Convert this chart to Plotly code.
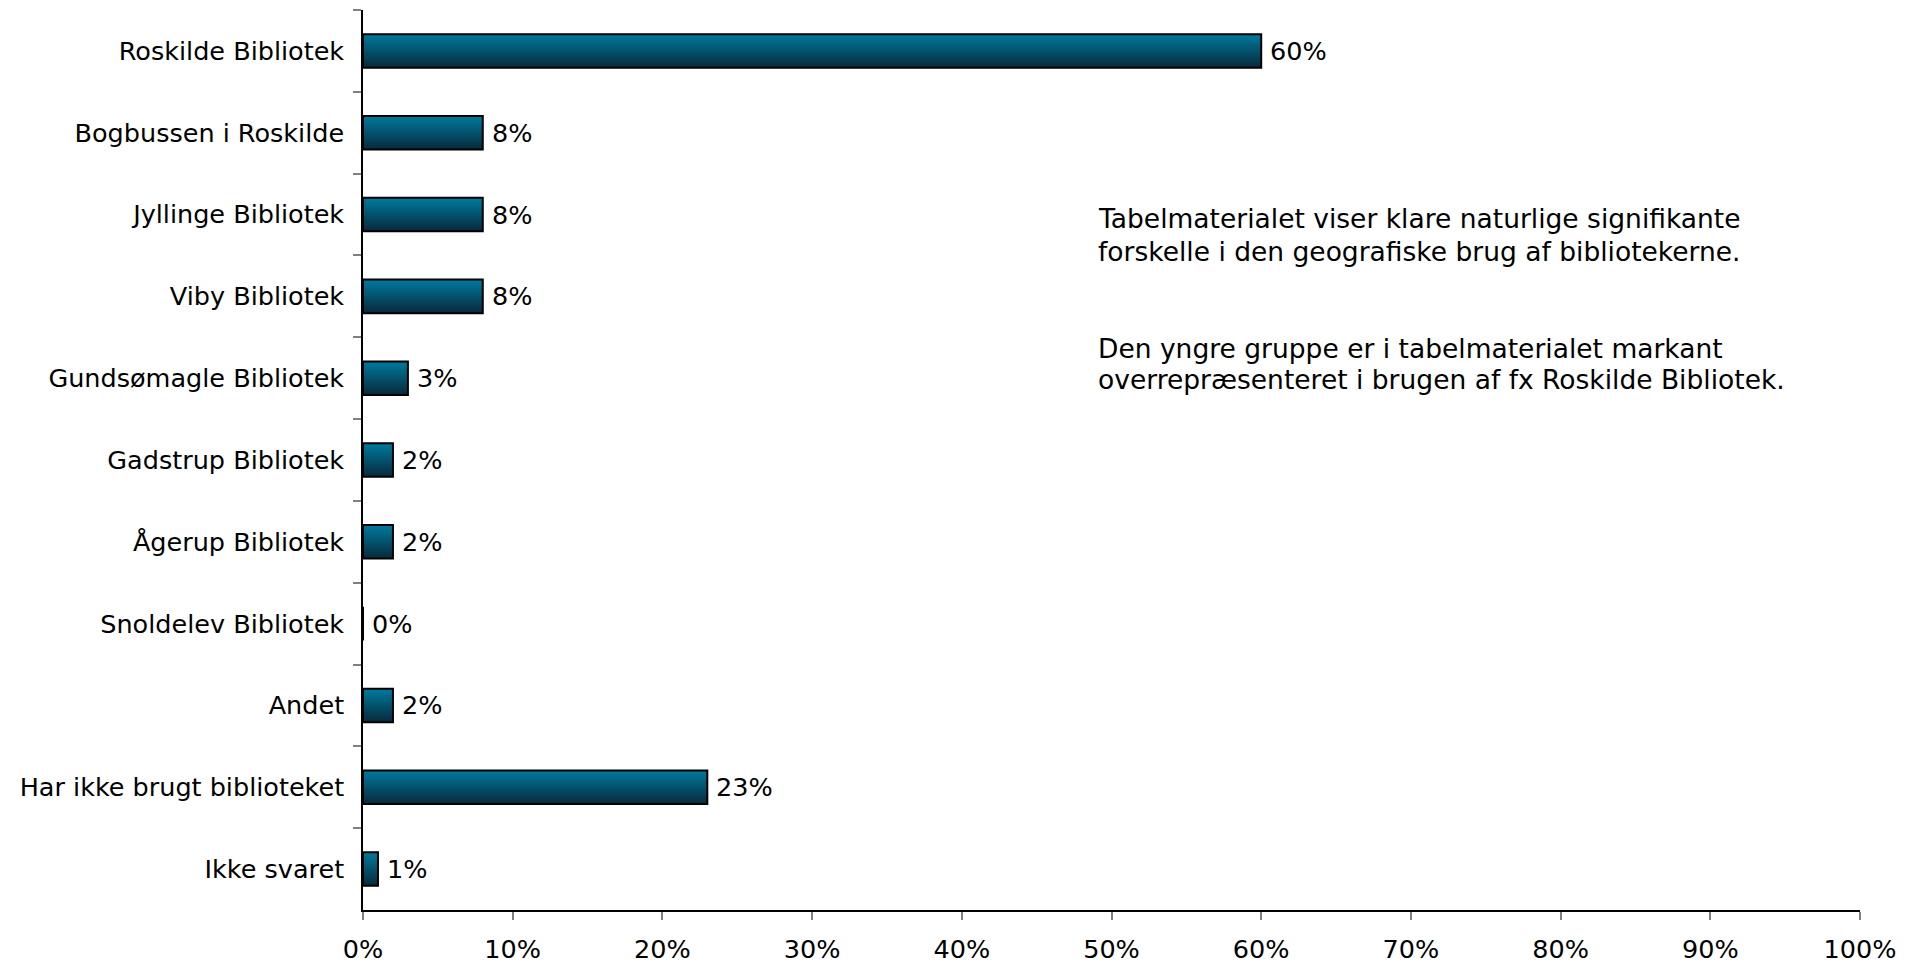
import plotly.graph_objects as go

categories = [
    "Roskilde Bibliotek",
    "Bogbussen i Roskilde",
    "Jyllinge Bibliotek",
    "Viby Bibliotek",
    "Gundsømagle Bibliotek",
    "Gadstrup Bibliotek",
    "Ågerup Bibliotek",
    "Snoldelev Bibliotek",
    "Andet",
    "Har ikke brugt biblioteket",
    "Ikke svaret",
]
values = [60, 8, 8, 8, 3, 2, 2, 0, 2, 23, 1]
labels = [f"{v}%" for v in values]

x_ticks = list(range(0, 101, 10))
x_tick_labels = [f"{t}%" for t in x_ticks]

note_lines = [
    "Tabelmaterialet viser klare naturlige signifikante",
    "forskelle i den geografiske brug af bibliotekerne.",
    "Den yngre gruppe er i tabelmaterialet markant",
    "overrepræsenteret i brugen af fx Roskilde Bibliotek.",
]
note_line_y = [0.7681, 0.7314, 0.6244, 0.5889]

FONT = "DejaVu Sans, Verdana, sans-serif"
FS = 25.5
FS_NOTE = 26.5
BAR_W = 0.41
N = 16
top_rgb = (0, 120, 155)
bot_rgb = (8, 44, 62)

fig = go.Figure()
# vertical gradient: overlapping strips, each reaching to the bar's bottom edge
for i in range(N):
    t = i / (N - 1)
    c = tuple(round(top_rgb[k] + (bot_rgb[k] - top_rgb[k]) * t) for k in range(3))
    fig.add_trace(go.Bar(
        x=values, y=categories, orientation="h",
        width=BAR_W - i * BAR_W / N, offset=-BAR_W / 2 + i * BAR_W / N,
        marker=dict(color=f"rgb{c}", line=dict(width=0)),
        hoverinfo="skip", showlegend=False,
    ))

fig.add_trace(go.Bar(
    x=values, y=categories, orientation="h",
    width=BAR_W, offset=-BAR_W / 2,
    marker=dict(color="rgba(0,0,0,0)", line=dict(color="black", width=2)),
    showlegend=False,
))

for cat, v, lab in zip(categories, values, labels):
    fig.add_annotation(
        x=v, y=cat, xref="x", yref="y", xanchor="left", yanchor="middle",
        xshift=7, showarrow=False, text=lab,
        font=dict(family=FONT, size=FS, color="black"),
    )

for line, ly in zip(note_lines, note_line_y):
    fig.add_annotation(
        x=0.4897, y=ly, xref="paper", yref="paper",
        xanchor="left", yanchor="middle", align="left", showarrow=False,
        text=line, font=dict(family=FONT, size=FS_NOTE, color="black"),
    )

fig.update_layout(
    width=1921, height=965,
    margin=dict(l=363, r=61, t=10, b=55),
    barmode="overlay",
    plot_bgcolor="white", paper_bgcolor="white",
    font=dict(family=FONT, size=FS, color="black"),
)
fig.update_xaxes(
    range=[0, 100], tickvals=x_ticks, ticktext=x_tick_labels,
    showgrid=False, zeroline=False, showline=True, linecolor="black", linewidth=1.5,
    ticks="outside", ticklen=8, tickcolor="#808080", tickwidth=1.5,
    ticklabelstandoff=8, automargin=False,
    tickfont=dict(family=FONT, size=FS, color="black"),
)
fig.update_yaxes(
    categoryorder="array", categoryarray=categories, autorange="reversed",
    showgrid=False, zeroline=False, showline=True, linecolor="black", linewidth=1.5,
    ticks="outside", ticklen=8, tickcolor="#808080", tickwidth=1.5, tickson="boundaries",
    ticklabelstandoff=12, automargin=False,
    tickfont=dict(family=FONT, size=FS, color="black"),
)

fig.write_html(
    "out.html",
    config={"displayModeBar": False},
    post_script="document.body.style.margin='0';document.body.style.overflow='hidden';",
)
